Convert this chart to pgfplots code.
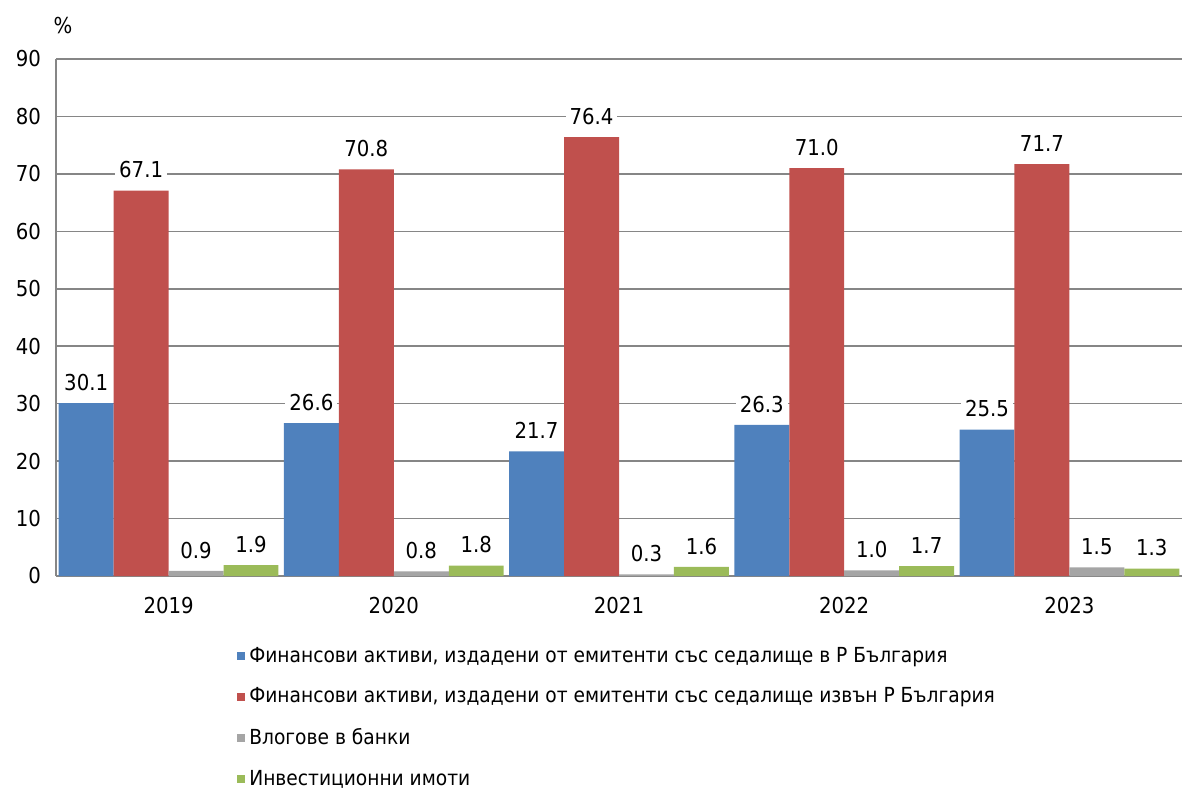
\documentclass[border=0pt]{standalone}
\usepackage{fontspec}
\setmainfont{DejaVu Sans Condensed}
\usepackage{pgfplots}
\pgfplotsset{compat=1.18}
\definecolor{cblue}{RGB}{79,129,189}
\definecolor{cred}{RGB}{192,80,77}
\definecolor{cgray}{RGB}{165,165,165}
\definecolor{cgreen}{RGB}{155,187,89}
\definecolor{gridc}{RGB}{134,134,134}
\begin{document}
\begin{tikzpicture}
\useasboundingbox (-28bp,-107bp) rectangle (563bp,288bp);
\begin{axis}[
  scale only axis, width=563bp, height=258.5bp,
  ybar=0pt, bar width=0.244,
  xmin=-0.5, xmax=4.5, ymin=0, ymax=90,
  xtick={0,1,2,3,4}, xticklabels={2019,2020,2021,2022,2023},
  ytick={0,10,...,90},
  ymajorgrids, grid style={gridc, line width=0.8bp},
  axis x line=bottom, axis y line=left,
  axis line style={gridc, line width=1bp, -},
  major tick length=0pt,
  tick label style={font=\fontsize{11}{13}\selectfont},
  xticklabel style={yshift=-7bp},
  yticklabel style={xshift=-4bp},
  /pgf/number format/assume math mode=true,
  nodes near coords={\pgfmathprintnumber[fixed,fixed zerofill,precision=1,assume math mode=true]{\pgfplotspointmeta}},
  every node near coord/.append style={fill=white, inner xsep=2bp, inner ysep=2bp, yshift=4bp, font=\fontsize{11}{13}\selectfont, text=black},
  legend style={draw=none, fill=none, inner sep=0pt, at={(axis description cs:0.1607,-0.129)}, anchor=north west,
    row sep=7.3bp, font=\fontsize{10.4}{12.4}\selectfont, /tikz/every even column/.append style={column sep=0pt}},
  legend cell align=left,
  legend image code/.code={\fill[#1] (0bp,-2bp) rectangle (4bp,2bp);},
  clip=false,
]
\addplot[fill=cblue, draw=none] coordinates {(0,30.1) (1,26.6) (2,21.7) (3,26.3) (4,25.5)};
\addplot[fill=cred, draw=none] coordinates {(0,67.1) (1,70.8) (2,76.4) (3,71.0) (4,71.7)};
\addplot[fill=cgray, draw=none] coordinates {(0,0.9) (1,0.8) (2,0.3) (3,1.0) (4,1.5)};
\addplot[fill=cgreen, draw=none] coordinates {(0,1.9) (1,1.8) (2,1.6) (3,1.7) (4,1.3)};
\legend{{Финансови активи, издадени от емитенти със седалище в Р България},
{Финансови активи, издадени от емитенти със седалище извън Р България},
{Влогове в банки},
{Инвестиционни имоти}}
\node[font=\fontsize{11}{13}\selectfont, anchor=center] at ([xshift=3.5bp,yshift=17bp]current axis.north west) {\%};
\end{axis}
\end{tikzpicture}
\end{document}
